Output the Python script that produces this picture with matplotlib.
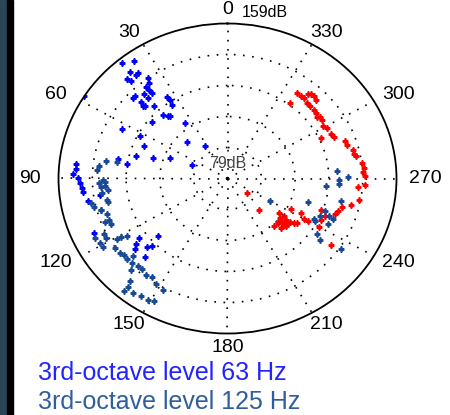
import numpy as np
import matplotlib
matplotlib.use("Agg")
import matplotlib.pyplot as plt
import matplotlib.patches as mpatches

# angles in degrees (0 = up, counter-clockwise), levels in dB
th_63 = [40, 36, 40, 38, 39, 43, 42, 36, 37, 39, 39, 42, 46, 47, 46, 47, 46, 42, 39, 43,
         34, 34, 35, 43, 41, 40, 51, 62, 67, 63, 58, 35, 45, 32, 67, 69, 73, 75, 81, 79,
         84, 86, 88, 90, 92, 94, 96, 126, 128, 130, 133, 134, 136, 132, 100, 114, 98]
db_63 = [157, 154, 151, 148, 148, 149, 147, 143, 141, 140, 138, 138, 140, 140, 136, 134, 133, 135, 136, 130,
         130, 128, 125, 124, 122, 121, 125, 126, 122, 135, 159, 114, 106, 99, 97, 108, 116, 124, 127, 132,
         151, 151, 152, 150, 149, 148, 148, 131, 134, 136, 131, 129, 135, 123, 146, 148, 140]

th_125 = [81, 81, 84, 86, 92, 94, 91, 92, 94, 96, 97, 101, 103, 105, 101, 102, 105, 108, 111, 113,
          111, 116, 116, 119, 121, 118, 121, 121, 122, 124, 127, 129, 131, 132, 134, 137, 139, 142, 145, 148,
          152, 139, 140, 140, 143, 146, 149, 151, 136, 274, 271, 269, 267, 265, 258, 252, 240, 243, 242, 250,
          248, 247, 244, 246, 236, 234, 236]
db_125 = [132, 137, 140, 141, 140, 139, 138, 137, 137, 136, 139, 145, 144, 141, 137, 137, 141, 139, 139, 139,
          141, 144, 149, 148, 148, 144, 140, 138, 135, 143, 143, 142, 142, 139, 142, 141, 141, 142, 141, 143,
          144, 149, 152, 155, 153, 152, 152, 151, 145, 131, 136, 132, 132, 126, 134, 119, 102, 125, 126, 128,
          131, 133, 132, 127, 130, 133, 144]

th_red = [323, 321, 319, 319, 318, 316, 314, 323, 316, 314, 311, 309, 307, 306, 304, 301, 295, 299, 295, 293,
          289, 287, 284, 282, 281, 277, 275, 273, 271, 267, 266, 260, 257, 255, 252, 250, 247, 244, 240, 240,
          240, 243, 242, 233, 234, 223, 232, 234, 229, 228, 226, 222, 229, 234, 235, 235, 250, 231, 232, 231,
          225, 227]
db_red = [134, 134, 134, 137, 138, 138, 137, 128, 133, 133, 133, 133, 132, 133, 133, 132, 128, 133, 133, 134,
          138, 138, 140, 140, 141, 143, 144, 143, 144, 144, 141, 142, 139, 135, 134, 133, 129, 128, 129, 123,
          121, 118, 113, 116, 109, 101, 91, 112, 113, 115, 112, 112, 116, 118, 119, 139, 126, 111, 114, 116,
          115, 112]

angle_ticks = list(range(0, 360, 30))
r_min, r_max = 79, 159
r_rings = [95, 111, 127, 143]

fig = plt.figure(figsize=(4.5, 4.15), dpi=100)
# dark edge of the screenshot on the left
fig.patches.append(mpatches.Rectangle((0, 0), 7 / 450, 1, transform=fig.transFigure,
                                      color="#2c4658", zorder=0))
fig.patches.append(mpatches.Rectangle((7 / 450, 0), 6 / 450, 1, transform=fig.transFigure,
                                      color="black", zorder=0))

ax = fig.add_axes([58.5 / 450, 81.5 / 415, 338 / 450, 310 / 415], projection="polar")
ax.set_aspect("auto")  # reference is stretched sideways
ax.set_theta_zero_location("N")
ax.set_theta_direction(1)
ax.set_ylim(r_min, r_max)

dots = (0, (1, 4.5))
ax.set_rgrids(r_rings, labels=[])
ax.set_thetagrids(angle_ticks, labels=[])
ax.grid(True, color="black", linestyle=dots, linewidth=1.2)
ax.spines["polar"].set_linewidth(1.3)

# angle labels around the rim
for a in angle_ticks:
    s, c = np.sin(np.radians(a)), np.cos(np.radians(a))
    ax.text(0.5 - 0.5 * 1.17 * s, 0.5 + 0.5 * 1.09 * c, str(a), transform=ax.transAxes,
            ha="center", va="center", fontsize=14, family="Liberation Sans")
ax.text(0.543, 1.034, "%ddB" % r_max, transform=ax.transAxes, ha="left", va="center",
        fontsize=11.5, family="Liberation Sans")
ax.text(0.5, 0.55, "%ddB" % r_min, transform=ax.transAxes, ha="center", va="center",
        fontsize=11.5, family="Liberation Sans", color="#444444")

mk = dict(marker="+", linestyle="none", markersize=5, markeredgewidth=1.8)
ax.plot(np.radians(th_red), db_red, color="#ff0000", **mk)
ax.plot(np.radians(th_63), db_63, color="#0000ff", **mk)
ax.plot(np.radians(th_125), db_125, color="#1a4a96", **mk)

fig.text(38 / 450, 1 - 373 / 415, "3rd-octave level 63 Hz", color="#2323ff",
         fontsize=18, family="Liberation Sans", va="center")
fig.text(38 / 450, 1 - 402 / 415, "3rd-octave level 125 Hz", color="#2f5e9e",
         fontsize=18, family="Liberation Sans", va="center")

fig.savefig("out.png", dpi=100)
